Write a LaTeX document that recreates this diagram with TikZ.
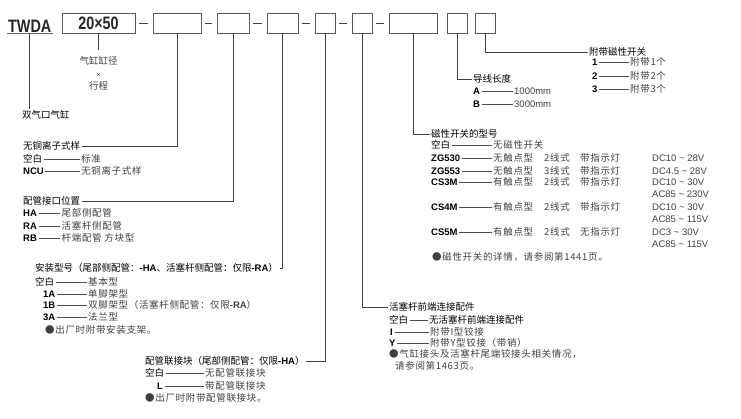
\documentclass[tikz,border=0pt]{standalone}
\usepackage{fontspec}
\setmainfont{Noto Sans CJK SC}
\newfontfamily\latn{Liberation Sans}
\newfontfamily\ttlfont[FakeStretch=0.8]{Liberation Sans}
\usetikzlibrary{positioning}

\tikzset{
  codebox/.style={draw=black!65, line width=0.8pt, minimum height=20pt, inner sep=0pt},
  conn/.style={draw=black!75, line width=0.7pt},
  rowln/.style={draw=black!70, line width=0.6pt},
  head/.style={anchor=west, inner sep=1.5pt, font=\fontsize{9.5}{11}\selectfont},
  codetxt/.style={anchor=west, inner sep=1.5pt, font=\latn\bfseries\fontsize{9.5}{11}\selectfont},
  desctxt/.style={anchor=west, inner sep=1.5pt, text=black!75,
    font=\fontsize{9.5}{11}\selectfont\addfontfeature{LetterSpace=7}},
  volttxt/.style={desctxt, font=\latn\fontsize{9.5}{11}\selectfont},
  titletxt/.style={inner sep=1pt, text=black!85, font=\ttlfont\bfseries\fontsize{18}{20}\selectfont},
}

% one option: code -- description
\newcommand{\optrow}[6]{%
  \node[codetxt] (#1c) at (#3,#2) {#4};
  \node[desctxt] (#1d) at (#5,#2) {#6};
  \draw[rowln] (#1c) -- (#1d);
}
\newcommand{\kongbai}{{\rmfamily\mdseries 空白}}
\newcommand{\cd}[1]{{\latn\bfseries #1}}

\begin{document}
\begin{tikzpicture}[x=1pt, y=-1pt]
    \useasboundingbox (0,0) rectangle (741,418);

    % Model code boxes
    \node[titletxt, anchor=base west] (tw) at (7,32) {TWDA};
    \draw[black!60, line width=1.2pt] (tw.south west) -- (tw.south east);
    \node[codebox, minimum width=73pt] (b1) at (98.5,23) {\ttlfont\bfseries\fontsize{18}{20}\selectfont\color{black!85}20×50};
    \node[codebox, minimum width=48pt] (b2) at (177,23) {};
    \node[codebox, minimum width=32pt] (b3) at (233,23) {};
    \node[codebox, minimum width=31pt] (b4) at (282.5,23) {};
    \node[codebox, minimum width=20pt] (b5) at (325,23) {};
    \node[codebox, minimum width=20pt] (b6) at (362,23) {};
    \node[codebox, minimum width=48pt] (b7) at (413,23) {};
    \node[codebox, minimum width=20pt] (b8) at (457,23) {};
    \node[codebox, minimum width=20pt] (b9) at (485,23) {};
    \foreach \a/\b in {b1/b2,b2/b3,b3/b4,b4/b5,b5/b6,b6/b7}
        \draw[conn, shorten <=4pt, shorten >=4.5pt] (\a) -- (\b);

    % Series
    \node[head] (dual) at (20.5,115) {双气口气缸};
    \draw[conn] (tw.south) -- (tw.south |- dual.north);

    % Bore x stroke
    \node[desctxt, anchor=north, align=center, font=\fontsize{9.5}{12.5}\selectfont] (bore) at (98.5,55)
        {气缸缸径\\{\latn\fontsize{7.5}{8}\selectfont ×}\\行程};
    \draw[conn, shorten >=5pt] (b1.south) -- (bore.north);

    % Copper-free
    \node[head] (hNCU) at (21.5,146) {无铜离子式样};
    \draw[conn] (b2.south) |- (hNCU.east);
    \optrow{n0}{159}{21.5}{\kongbai}{79.5}{标准}
    \optrow{n1}{171}{21.5}{NCU}{79.5}{无铜离子式样}

    % Port position
    \node[head] (hPort) at (21.5,201) {配管接口位置};
    \draw[conn] (b3.south) |- (hPort.east);
    \optrow{p0}{213}{21.5}{HA}{60}{尾部侧配管}
    \optrow{p1}{226}{21.5}{RA}{60}{活塞杆侧配管}
    \optrow{p2}{238}{21.5}{RB}{60}{杆端配管 方块型}

    % Mounting
    \node[head] (hMount) at (33.5,268) {安装型号（尾部侧配管：\cd{-HA}、活塞杆侧配管：仅限\cd{-RA}）};
    \draw[conn] (b4.south) |- (hMount.east);
    \optrow{m0}{282}{33.5}{\kongbai}{86.5}{基本型}
    \optrow{m1}{294}{41.5}{1A}{86.5}{单脚架型}
    \optrow{m2}{305}{41.5}{1B}{86.5}{双脚架型（活塞杆侧配管：仅限\cd{-RA}）}
    \optrow{m3}{317}{41.5}{3A}{86.5}{法兰型}
    \node[desctxt] (mNote) at (43.5,330) {●出厂时附带安装支架。};

    % Piping block
    \node[head] (hPipe) at (143.5,361) {配管联接块（尾部侧配管：仅限\cd{-HA}）};
    \draw[conn] (b5.south) |- (hPipe.east);
    \optrow{k0}{373}{143.5}{\kongbai}{203.5}{无配管联接块}
    \optrow{k1}{386}{155.5}{L}{203.5}{带配管联接块}
    \node[desctxt] (kNote) at (143.5,398) {●出厂时附带配管联接块。};

    % Rod end fitting
    \node[head] (hRod) at (387.5,307) {活塞杆前端连接配件};
    \draw[conn] (b6.south) |- (hRod.west);
    \node[head] (r0c) at (387.5,320) {空白};
    \node[head] (r0d) at (427.5,320) {无活塞杆前端连接配件};
    \draw[rowln] (r0c) -- (r0d);
    \optrow{r1}{332}{388.5}{I}{428.5}{附带I型铰接}
    \optrow{r2}{343}{387.5}{Y}{428.5}{附带Y型铰接（带销）}
    \node[desctxt] (rNote) at (387.5,354) {●气缸接头及活塞杆尾端铰接头相关情况，};
    \node[desctxt] (rNote2) at (393.5,366) {请参阅第1463页。};

    % Auto switch
    \node[head] (hSw) at (429.5,134) {磁性开关的型号};
    \draw[conn] (b7.south) |- (hSw.west);
    \optrow{s0}{145}{429.5}{\kongbai}{491.5}{无磁性开关}
    \foreach \nm/\y/\cod/\tp/\wr/\lp/\vt in {
        s1/158/ZG530/无触点型/2线式/带指示灯/{DC10 \textasciitilde{} 28V},
        s2/171/ZG553/无触点型/3线式/带指示灯/{DC4.5 \textasciitilde{} 28V},
        s3/182/CS3M/有触点型/2线式/带指示灯/{DC10 \textasciitilde{} 30V},
        s4/207/CS4M/有触点型/2线式/带指示灯/{DC10 \textasciitilde{} 30V},
        s5/232/CS5M/有触点型/2线式/无指示灯/{DC3 \textasciitilde{} 30V}}{
        \optrow{\nm}{\y}{429.5}{\cod}{491.5}{\tp}
        \node[desctxt] (\nm w) at (542.5,\y) {\wr};
        \node[desctxt] (\nm l) at (578.5,\y) {\lp};
        \node[volttxt] (\nm v) at (650.5,\y) {\vt};
    }
    \foreach \nm/\y/\vt in {s3/194/230V, s4/219/115V, s5/244/115V}
        \node[volttxt] (\nm a) at (650.5,\y) {AC85 \textasciitilde{} \vt};
    \node[desctxt] (sNote) at (430.5,257) {●磁性开关的详情，请参阅第1441页。};

    % Lead wire
    \node[head] (hLen) at (471.5,79) {导线长度};
    \draw[conn] (b8.south) |- (hLen.west);
    \optrow{la}{91}{471.5}{A}{512.5}{\latn 1000mm}
    \optrow{lb}{104}{471.5}{B}{512.5}{\latn 3000mm}

    % Number of switches
    \node[head] (hNum) at (587.5,52) {附带磁性开关};
    \draw[conn] (b9.south) |- (hNum.west);
    \optrow{q1}{62}{590.5}{1}{628.5}{附带1个}
    \optrow{q2}{76}{590.5}{2}{628.5}{附带2个}
    \optrow{q3}{89}{590.5}{3}{628.5}{附带3个}
\end{tikzpicture}
\end{document}
